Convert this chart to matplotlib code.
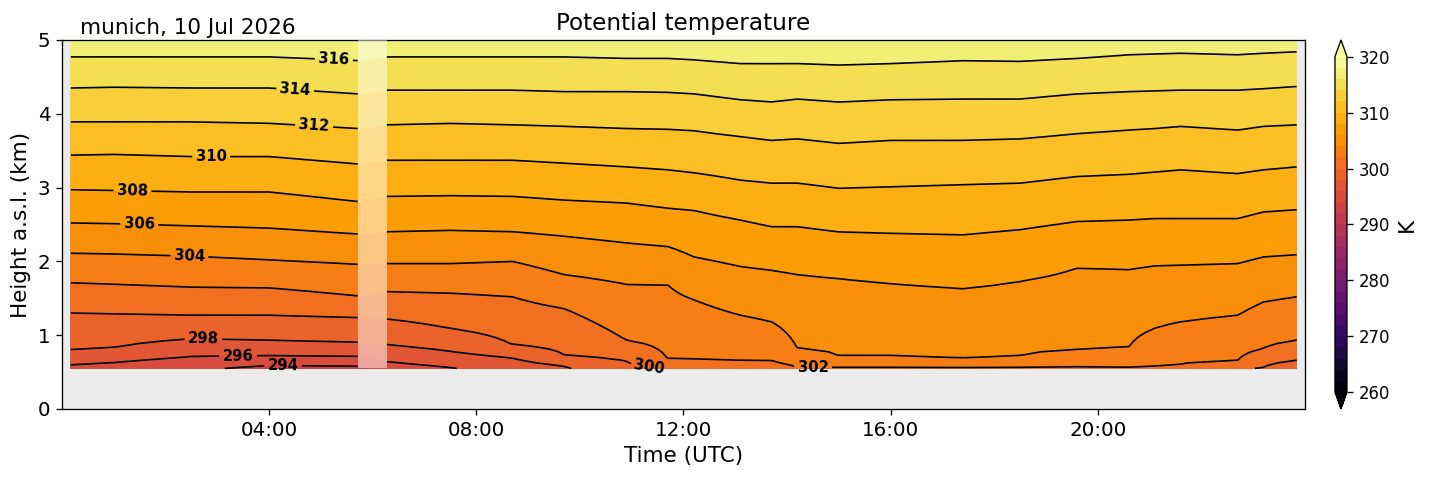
import numpy as np
import matplotlib.pyplot as plt

station = "munich"
date_label = "10 Jul 2026"

hours = np.array([0.17, 1.0, 2.5, 4.0, 5.71,
                  6.27, 7.5, 8.7, 9.7, 10.9, 11.7, 12.2, 13.1, 13.7, 14.2,
                  15.0, 16.0, 17.4, 18.5, 19.6, 20.6, 21.1, 21.6, 22.7, 23.2, 23.84])
gap_start, gap_end = 5.71, 6.27   # missing data
n_left = 5                        # knots before the gap

# height (km) of each isentrope at those times, nan = below the lowest gate
nan = np.nan
h294 = [nan, nan, nan, 0.59, 0.58, nan, nan, nan, nan, nan, nan, nan, nan, nan, nan,
        nan, nan, nan, nan, nan, nan, nan, nan, nan, nan, nan]
h296 = [0.60, 0.63, 0.71, 0.72, 0.71, 0.64, 0.56, nan, nan, nan, nan, nan, nan, nan, nan,
        nan, nan, nan, nan, nan, nan, nan, nan, nan, nan, nan]
h298 = [0.80, 0.83, 0.95, 0.93, 0.90, 0.87, 0.78, 0.69, 0.58, nan, nan, nan, nan, nan, nan,
        nan, nan, nan, nan, nan, nan, nan, nan, nan, nan, nan]
h300 = [1.30, 1.29, 1.27, 1.27, 1.24, 1.22, 1.09, 0.87, 0.73, 0.65, nan, nan, nan, nan, nan,
        nan, nan, nan, nan, nan, nan, nan, nan, nan, 0.57, 0.66]
h302 = [1.71, 1.69, 1.65, 1.64, 1.53, 1.59, 1.57, 1.52, 1.36, 0.93, 0.67, 0.67, 0.66, 0.65, 0.57,
        nan, nan, nan, nan, nan, 0.57, 0.58, 0.60, 0.66, 0.82, 0.93]
h304 = [2.11, 2.10, 2.07, 2.02, 1.96, 1.97, 1.97, 2.00, 1.82, 1.69, 1.68, 1.48, 1.27, 1.18, 0.82,
        0.71, 0.71, 0.68, 0.71, 0.80, 0.84, 1.09, 1.18, 1.27, 1.45, 1.52]
h306 = [2.52, 2.51, 2.48, 2.45, 2.37, 2.40, 2.42, 2.40, 2.34, 2.25, 2.20, 2.06, 1.93, 1.88, 1.82,
        1.77, 1.70, 1.63, 1.73, 1.91, 1.89, 1.94, 1.95, 1.97, 2.06, 2.09]
h308 = [2.97, 2.96, 2.94, 2.94, 2.81, 2.88, 2.89, 2.88, 2.83, 2.79, 2.72, 2.69, 2.56, 2.47, 2.47,
        2.40, 2.38, 2.36, 2.43, 2.54, 2.56, 2.58, 2.58, 2.58, 2.67, 2.70]
h310 = [3.44, 3.45, 3.42, 3.42, 3.32, 3.37, 3.37, 3.37, 3.33, 3.28, 3.24, 3.20, 3.10, 3.06, 3.06,
        2.99, 3.01, 3.04, 3.06, 3.15, 3.18, 3.21, 3.24, 3.19, 3.24, 3.28]
h312 = [3.89, 3.89, 3.89, 3.87, 3.80, 3.85, 3.87, 3.85, 3.83, 3.80, 3.79, 3.77, 3.69, 3.64, 3.66,
        3.60, 3.64, 3.64, 3.66, 3.73, 3.78, 3.80, 3.83, 3.78, 3.83, 3.85]
h314 = [4.35, 4.36, 4.35, 4.35, 4.27, 4.32, 4.32, 4.32, 4.30, 4.30, 4.29, 4.27, 4.19, 4.16, 4.20,
        4.16, 4.19, 4.20, 4.20, 4.27, 4.30, 4.31, 4.32, 4.32, 4.34, 4.37]
h316 = [4.77, 4.77, 4.77, 4.77, 4.72, 4.77, 4.77, 4.77, 4.77, 4.75, 4.75, 4.73, 4.68, 4.68, 4.68,
        4.66, 4.68, 4.72, 4.71, 4.75, 4.80, 4.81, 4.82, 4.80, 4.82, 4.84]
line_levels = np.arange(294, 317, 2)

# theta (K) at the lowest and highest gate
z_bottom, z_top = 0.55, 5.0
theta_bottom = [295.6, 295.4, 294.3, 293.6, 293.6, 295.1, 295.9, 296.9, 297.8, 299.6, 300.1,
                301.0, 301.0, 301.1, 301.9, 301.8, 301.8, 301.8, 301.8, 301.8, 301.9, 301.8,
                301.6, 300.2, 299.9, 298.2]
theta_top = [317.0, 317.0, 317.0, 317.0, 317.2, 317.0, 317.0, 317.0, 317.0, 317.1, 317.1,
             317.1, 317.4, 317.4, 317.4, 317.5, 317.4, 317.2, 317.2, 317.1, 316.9, 316.8,
             316.8, 316.9, 316.8, 316.7]

# build the theta(z, t) field from the isentrope heights
heights = np.array([h294, h296, h298, h300, h302, h304, h306, h308, h310, h312, h314, h316])
z = np.linspace(z_bottom, z_top, 120)
theta = np.empty((len(z), len(hours)))
for j in range(len(hours)):
    ok = ~np.isnan(heights[:, j])
    zp = np.concatenate([[z_bottom], heights[ok, j], [z_top]])
    tp = np.concatenate([[theta_bottom[j]], line_levels[ok], [theta_top[j]]])
    theta[:, j] = np.interp(z, zp, tp)

levels = np.arange(260, 321, 2)

fig = plt.figure(figsize=(1429 / 119, 478 / 119), dpi=119)
ax = fig.add_axes([0.0434, 0.1444, 0.8698, 0.772])
ax.set_facecolor('#ebebeb')

cf = ax.contourf(hours, z, theta, levels=levels, cmap='inferno', extend='both')

# contour lines, split at the data gap
cs1 = ax.contour(hours[:n_left], z, theta[:, :n_left], levels=levels, colors='k', linewidths=1.0)
cs2 = ax.contour(hours[n_left:], z, theta[:, n_left:], levels=levels, colors='k', linewidths=1.0)

left_label_pos = [(5.25, 4.75), (4.5, 4.3), (4.87, 3.85), (2.88, 3.42), (1.36, 2.95),
                  (1.49, 2.5), (2.46, 2.07), (2.73, 0.96), (3.4, 0.72), (4.27, 0.59)]
right_label_pos = [(11.35, 0.6), (14.5, 0.57)]
txt1 = ax.clabel(cs1, fmt='%d', fontsize=9, manual=left_label_pos)
txt2 = ax.clabel(cs2, fmt='%d', fontsize=9, manual=right_label_pos)
for t in list(txt1) + list(txt2):
    t.set_fontweight('bold')

# shade the gap
ax.fill_between([gap_start, gap_end], z_bottom, z_top, color='white', alpha=0.5, lw=0, zorder=3)

ax.set_xlim(0, 24)
ax.set_ylim(0, 5)
ax.set_xticks([4, 8, 12, 16, 20])
ax.set_xticklabels(['%02d:00' % h for h in [4, 8, 12, 16, 20]])
ax.set_yticks(range(6))
ax.tick_params(labelsize=12)
ax.set_xlabel('Time (UTC)', fontsize=13)
ax.set_ylabel('Height a.s.l. (km)', fontsize=13)
ax.set_title('Potential temperature', fontsize=14)
ax.text(0.0145, 1.016, f'{station}, {date_label}', transform=ax.transAxes,
        fontsize=13, va='baseline', ha='left')

cax = fig.add_axes([0.9342, 0.1444, 0.0084, 0.772])
cb = fig.colorbar(cf, cax=cax, ticks=np.arange(260, 321, 10))
cb.set_label('K', fontsize=13)
cb.ax.tick_params(labelsize=10)

fig.savefig('out.png', dpi=119)
